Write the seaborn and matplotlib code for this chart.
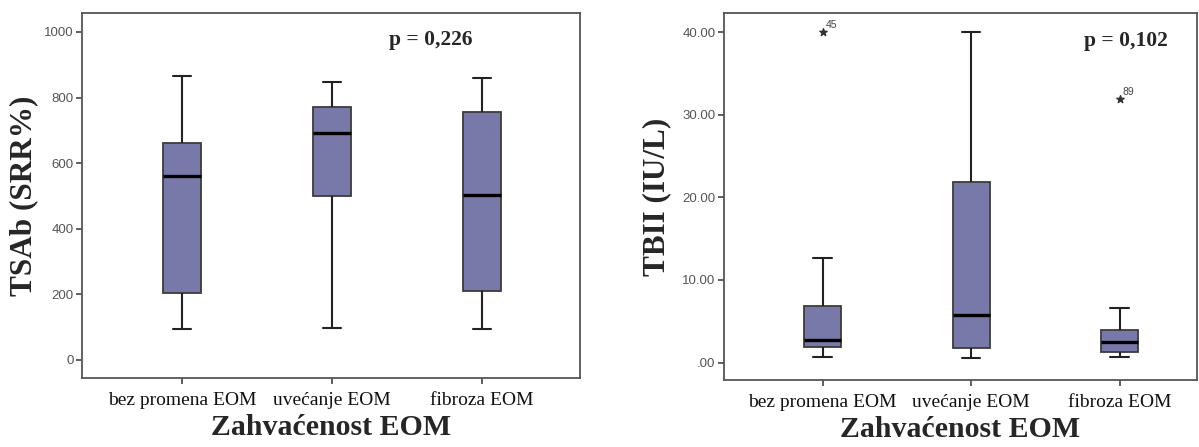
import matplotlib
matplotlib.use("Agg")
import matplotlib.pyplot as plt
import pandas as pd
import seaborn as sns

# categories (x axis)
groups = ["bez promena EOM", "uvećanje EOM", "fibroza EOM"]

# five-number summaries: min, Q1, median, Q3, max
tsab_bez = [95, 205, 561, 660, 865]
tsab_uve = [96, 500, 693, 772, 848]
tsab_fib = [93, 210, 503, 757, 859]

tbii_bez = [0.65, 1.86, 2.75, 6.9, 12.7]
tbii_uve = [0.6, 1.73, 5.8, 21.9, 40.0]
tbii_fib = [0.73, 1.3, 2.5, 3.9, 6.6]

# extreme outliers (group, value, case number)
tbii_out_group = ["bez promena EOM", "fibroza EOM"]
tbii_out_value = [40.0, 31.9]
tbii_out_label = ["45", "89"]

tsab_ticks = [0, 200, 400, 600, 800, 1000]
tbii_ticks = [0, 10, 20, 30, 40]
tbii_ticklabels = [".00", "10.00", "20.00", "30.00", "40.00"]

sns.set_theme(style="white")
plt.rcParams["font.family"] = ["Liberation Serif", "DejaVu Serif"]

box_color = "#7979a9"
edge = "#3c3c3c"


def long_df(a, b, c):
    vals = a + b + c
    grp = [groups[0]] * len(a) + [groups[1]] * len(b) + [groups[2]] * len(c)
    return pd.DataFrame({"group": grp, "value": vals})


def style_axes(ax):
    for s in ax.spines.values():
        s.set_visible(True)
        s.set_color("#555555")
        s.set_linewidth(1.3)
    ax.tick_params(axis="both", which="both", direction="out", length=4,
                   width=1.2, color="#444444", bottom=True, left=True)
    ax.tick_params(axis="x", labelsize=14, pad=6, labelcolor="#111111")
    ax.tick_params(axis="y", labelsize=9.5, pad=2, labelcolor="#555555")
    for t in ax.get_yticklabels():
        t.set_family(["Liberation Sans", "DejaVu Sans"])


def draw_box(ax, df):
    sns.boxplot(data=df, x="group", y="value", order=groups, ax=ax,
                whis=(0, 100), width=0.25, color=box_color, saturation=1,
                linecolor=edge, linewidth=1.3,
                medianprops={"color": "black", "linewidth": 2.4},
                whiskerprops={"color": "#222222", "linewidth": 1.5},
                capprops={"color": "#222222", "linewidth": 1.5})


fig = plt.figure(figsize=(11.99, 4.47), dpi=100)
ax1 = fig.add_axes([0.0684, 0.1544, 0.4153, 0.8166])
ax2 = fig.add_axes([0.6038, 0.1499, 0.3945, 0.8210])

# left panel: TSAb
draw_box(ax1, long_df(tsab_bez, tsab_uve, tsab_fib))
ax1.set_xlim(-0.667, 2.653)
ax1.set_ylim(-55, 1058)
ax1.set_yticks(tsab_ticks)
ax1.set_yticklabels([str(v) for v in tsab_ticks])
ax1.set_xlabel("Zahvaćenost EOM", fontsize=21.5, fontweight="bold", labelpad=4)
ax1.set_ylabel("TSAb (SRR%)", fontsize=22.5, fontweight="bold", labelpad=4)
ax1.text(0.70, 0.925, "p = 0,226", transform=ax1.transAxes, ha="center",
         va="center", fontsize=15.5, fontweight="bold")
style_axes(ax1)

# right panel: TBII
draw_box(ax2, long_df(tbii_bez, tbii_uve, tbii_fib))
xs = [groups.index(g) for g in tbii_out_group]
ax2.scatter(xs, tbii_out_value, marker="*", s=30, color="#333333", zorder=5)
for x, y, lab in zip(xs, tbii_out_value, tbii_out_label):
    ax2.annotate(lab, (x, y), xytext=(2, 3), textcoords="offset points",
                 fontsize=7.5, color="#444444",
                 family=["Liberation Sans", "DejaVu Sans"])
ax2.set_xlim(-0.664, 2.52)
ax2.set_ylim(-2.1, 42.3)
ax2.set_yticks(tbii_ticks)
ax2.set_yticklabels(tbii_ticklabels)
ax2.set_xlabel("Zahvaćenost EOM", fontsize=21.5, fontweight="bold", labelpad=4)
ax2.set_ylabel("TBII (IU/L)", fontsize=22.5, fontweight="bold", labelpad=8)
ax2.text(0.85, 0.925, "p = 0,102", transform=ax2.transAxes, ha="center",
         va="center", fontsize=15.5, fontweight="bold")
style_axes(ax2)

fig.savefig("out.png", dpi=100)
